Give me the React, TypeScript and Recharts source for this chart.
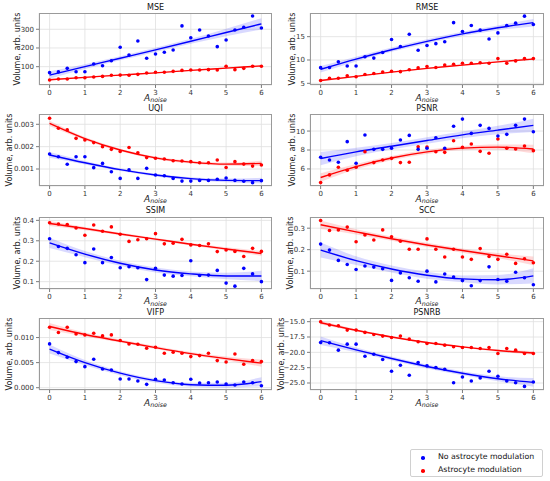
import React from "react";
import { Area, CartesianGrid, ComposedChart, Line, Scatter, XAxis, YAxis } from "recharts";

// Noise amplitudes of the measured points, and of the fitted curve samples.
const noiseLevels = [0, 0.25, 0.5, 0.75, 1, 1.25, 1.5, 1.75, 2, 2.25, 2.5, 2.75, 3, 3.25, 3.5, 3.75, 4, 4.25, 4.5, 4.75, 5, 5.25, 5.5, 5.75, 6];
const fitLevels = [0, 1, 2, 3, 4, 5, 6];
const xTicks = [0, 1, 2, 3, 4, 5, 6];

// MSE
const mseBlue = [68, 72, 91, 73, 73, 114, 105, 132, 204, 162, 237, 145, 168, 177, 189, 318, 255, 296, 264, 207, 243, 296, 311, 371, 307];
const mseRed = [29, 34, 34, 41, 41, 45, 48, 54, 55, 54, 59, 66, 70, 70, 75, 80, 82, 82, 84, 82, 102, 84, 91, 102, 102];
const mseBlueFit = [55, 100, 145, 190, 236, 283, 329];
const mseRedFit = [30, 43, 55, 67, 80, 92, 104];
const mseBlueBand = [20, 13, 11, 11, 13, 20, 30];
const mseRedBand = [4, 3, 2.5, 2.5, 2.5, 3, 5];

// RMSE
const rmseBlue = [8.36, 8.4, 9.6, 8.7, 8.7, 10.7, 10.4, 11.6, 14.4, 12.9, 15.5, 12.1, 13.1, 13.5, 13.9, 18, 16.1, 17.4, 16.4, 14.5, 15.8, 17.4, 17.9, 19.4, 17.6];
const rmseRed = [5.6, 6.1, 6.1, 6.6, 6.4, 6.9, 7.1, 7.4, 7.6, 7.5, 7.9, 8.3, 8.6, 8.4, 8.9, 9.1, 9.3, 9.3, 9.4, 9.3, 10.3, 9.3, 9.8, 10.3, 10.3];
const rmseBlueFit = [8.0, 10.2, 12.2, 14.0, 15.6, 16.9, 18.0];
const rmseRedFit = [5.6, 6.5, 7.4, 8.2, 8.9, 9.6, 10.2];
const rmseBlueBand = [0.7, 0.5, 0.45, 0.45, 0.45, 0.5, 0.8];
const rmseRedBand = [0.2, 0.15, 0.12, 0.12, 0.12, 0.15, 0.2];

// UQI
const uqiBlue = [0.00167, 0.00155, 0.00121, 0.00155, 0.00155, 0.00106, 0.00125, 0.00088, 0.00058, 0.00096, 0.00058, 0.00103, 0.00073, 0.0007, 0.00058, 0.00046, 0.00046, 0.00049, 0.00049, 0.00054, 0.0006, 0.00049, 0.00045, 0.00039, 0.00048];
const uqiRed = [0.00327, 0.00282, 0.00275, 0.00237, 0.0023, 0.00218, 0.002, 0.00188, 0.00178, 0.00196, 0.00173, 0.00151, 0.00148, 0.00145, 0.00137, 0.00136, 0.00133, 0.00128, 0.00128, 0.0014, 0.00107, 0.00133, 0.00122, 0.00113, 0.00118];
const uqiBlueFit = [0.00163, 0.00128, 0.00097, 0.00073, 0.00057, 0.00049, 0.00048];
const uqiRedFit = [0.00304, 0.00236, 0.00185, 0.0015, 0.00131, 0.00122, 0.00125];
const uqiBlueBand = [0.00013, 0.00008, 0.00006, 0.00006, 0.00006, 0.00008, 0.00013];
const uqiRedBand = [0.00012, 0.00007, 0.00006, 0.00006, 0.00006, 0.00007, 0.00012];

// PSNR
const psnrBlue = [7.23, 6.95, 6.7, 8.88, 6.6, 9.58, 8.07, 8.07, 8.18, 9.05, 9.54, 8.07, 8.18, 9.3, 8.18, 10.5, 11.26, 9.75, 10.6, 10.28, 9.47, 9.65, 10.6, 11.26, 9.93];
const psnrRed = [4.56, 5.37, 6.18, 5.86, 6.18, 7.82, 6.67, 6.95, 7.12, 6.67, 6.7, 8.35, 8.32, 7.82, 7.75, 8.98, 8.28, 8.63, 7.86, 7.65, 9.16, 8.18, 8.1, 8.42, 7.93];
const psnrBlueFit = [7.1, 7.8, 8.4, 9.0, 9.6, 10.1, 10.6];
const psnrRedFit = [5.1, 6.25, 7.15, 7.8, 8.2, 8.3, 8.1];
const psnrBlueBand = [0.7, 0.45, 0.35, 0.35, 0.35, 0.45, 0.7];
const psnrRedBand = [0.45, 0.28, 0.22, 0.22, 0.22, 0.28, 0.45];

// SSIM
const ssimBlue = [0.31, 0.272, 0.263, 0.232, 0.193, 0.26, 0.193, 0.218, 0.168, 0.173, 0.168, 0.11, 0.165, 0.132, 0.127, 0.13, 0.202, 0.13, 0.132, 0.155, 0.093, 0.078, 0.165, 0.138, 0.1];
const ssimRed = [0.388, 0.382, 0.38, 0.363, 0.327, 0.377, 0.347, 0.368, 0.332, 0.297, 0.305, 0.31, 0.335, 0.285, 0.288, 0.307, 0.28, 0.277, 0.285, 0.247, 0.255, 0.248, 0.223, 0.263, 0.248];
const ssimBlueFit = [0.29, 0.235, 0.19, 0.157, 0.138, 0.128, 0.128];
const ssimRedFit = [0.385, 0.36, 0.333, 0.308, 0.283, 0.26, 0.238];
const ssimBlueBand = [0.025, 0.015, 0.012, 0.012, 0.012, 0.016, 0.025];
const ssimRedBand = [0.012, 0.008, 0.006, 0.006, 0.006, 0.008, 0.012];

// SCC
const sccBlue = [0.226, 0.198, 0.15, 0.131, 0.108, 0.124, 0.119, 0.111, 0.057, 0.092, 0.069, 0.053, 0.1, 0.05, 0.087, 0.073, 0.056, 0.032, 0.056, 0.12, 0.061, 0.053, 0.095, 0.069, 0.037];
const sccRed = [0.336, 0.289, 0.292, 0.305, 0.237, 0.268, 0.245, 0.292, 0.26, 0.239, 0.202, 0.202, 0.25, 0.202, 0.166, 0.202, 0.166, 0.155, 0.205, 0.168, 0.155, 0.179, 0.136, 0.158, 0.139];
const sccBlueFit = [0.198, 0.149, 0.11, 0.081, 0.064, 0.06, 0.078];
const sccRedFit = [0.316, 0.283, 0.251, 0.222, 0.196, 0.172, 0.148];
const sccBlueBand = [0.035, 0.02, 0.016, 0.016, 0.016, 0.022, 0.035];
const sccRedBand = [0.02, 0.012, 0.01, 0.01, 0.01, 0.012, 0.02];

// VIFP
const vifpBlue = [0.00873, 0.007, 0.00607, 0.0052, 0.0042, 0.00567, 0.00373, 0.00353, 0.00173, 0.00173, 0.00133, 0.00067, 0.00167, 0.00153, 0.001, 0.00073, 0.00167, 0.00093, 0.001, 0.00113, 0.00073, 0.00053, 0.00113, 0.001, 0.0004];
const vifpRed = [0.01207, 0.011, 0.01207, 0.01073, 0.01053, 0.01087, 0.01033, 0.01053, 0.0094, 0.00873, 0.00867, 0.00787, 0.00807, 0.00687, 0.00707, 0.00687, 0.0062, 0.0064, 0.00687, 0.0054, 0.00513, 0.00673, 0.00467, 0.0054, 0.0052];
const vifpBlueFit = [0.0077, 0.005, 0.0029, 0.0014, 0.0006, 0.0005, 0.0012];
const vifpRedFit = [0.0122, 0.0106, 0.0093, 0.008, 0.0068, 0.0058, 0.0049];
const vifpBlueBand = [0.0009, 0.0005, 0.0004, 0.0004, 0.0004, 0.0005, 0.0009];
const vifpRedBand = [0.0007, 0.0004, 0.0003, 0.0003, 0.0003, 0.0004, 0.0007];

// PSNRB
const psnrbBlue = [-18.39, -18.44, -19.64, -18.66, -18.66, -20.63, -20.3, -21.17, -23.09, -22.1, -23.74, -21.67, -22.21, -22.49, -22.76, -24.95, -24.02, -24.67, -24.18, -23.09, -23.9, -24.67, -24.95, -25.55, -24.84];
const psnrbRed = [-15.0, -15.55, -15.66, -16.37, -16.37, -16.75, -17.08, -17.35, -17.57, -17.35, -17.84, -18.28, -18.55, -18.55, -18.83, -19.1, -19.2, -19.2, -19.37, -19.2, -20.2, -19.37, -19.64, -20.2, -20.2];
const psnrbBlueFit = [-18.1, -19.6, -21.0, -22.3, -23.4, -24.3, -24.9];
const psnrbRedFit = [-15.16, -16.4, -17.5, -18.4, -19.1, -19.7, -20.1];
const psnrbBlueBand = [0.7, 0.4, 0.32, 0.32, 0.32, 0.4, 0.7];
const psnrbRedBand = [0.3, 0.18, 0.14, 0.14, 0.14, 0.18, 0.3];

const BLUE = "#0000ff";
const RED = "#ff0000";
const Y_AXIS_W = 40;
const X_AXIS_H = 16;
const PLOT_H = 72;

type PanelProps = {
  title: string;
  left: number;
  top: number;
  width: number;
  labelX: number;
  yDomain: [number, number];
  yTicks: number[];
  decimals: number;
  blue: number[];
  red: number[];
  blueFit: number[];
  redFit: number[];
  blueBand: number[];
  redBand: number[];
};

const points = (values: number[]) => values.map((y, i) => ({ x: noiseLevels[i], y }));
const fit = (values: number[]) => values.map((y, i) => ({ x: fitLevels[i], y }));
const band = (values: number[], half: number[]) =>
  values.map((y, i) => ({ x: fitLevels[i], band: [y - half[i], y + half[i]] }));

const Dot = (props: any) => <circle cx={props.cx} cy={props.cy} r={1.8} fill={props.fill} />;

const fmt = (decimals: number) => (v: number) => v.toFixed(decimals).replace("-", "\u2212");

function Panel(p: PanelProps) {
  const cx = p.left + p.width / 2;
  return (
    <>
      <div style={{ position: "absolute", left: cx, top: p.top - 9.5, lineHeight: "8px", transform: "translateX(-50%)", fontSize: 8, whiteSpace: "nowrap" }}>
        {p.title}
      </div>
      <div style={{ position: "absolute", left: p.left - Y_AXIS_W, top: p.top }}>
        <ComposedChart width={p.width + Y_AXIS_W} height={PLOT_H + X_AXIS_H} margin={{ top: 0, right: 0, bottom: 0, left: 0 }}>
          <CartesianGrid stroke="#e0e0e0" strokeWidth={0.8} />
          <XAxis
            type="number"
            dataKey="x"
            domain={[-0.3, 6.3]}
            ticks={xTicks}
            interval={0}
            allowDataOverflow
            height={X_AXIS_H}
            axisLine={false}
            tickSize={3}
            tickLine={{ stroke: "#444", strokeWidth: 0.7 }}
            tick={{ fontSize: 7, fill: "#333" }}
          />
          <YAxis
            type="number"
            domain={p.yDomain}
            ticks={p.yTicks}
            interval={0}
            allowDataOverflow
            width={Y_AXIS_W}
            axisLine={false}
            tickSize={3}
            tickLine={{ stroke: "#444", strokeWidth: 0.7 }}
            tick={{ fontSize: 7, fill: "#333" }}
            tickFormatter={fmt(p.decimals)}
          />
          <Area data={band(p.redFit, p.redBand)} dataKey="band" type="monotone" fill={RED} fillOpacity={0.15} stroke="none" isAnimationActive={false} />
          <Area data={band(p.blueFit, p.blueBand)} dataKey="band" type="monotone" fill={BLUE} fillOpacity={0.15} stroke="none" isAnimationActive={false} />
          <Scatter data={points(p.red)} dataKey="y" fill={RED} shape={Dot} isAnimationActive={false} />
          <Scatter data={points(p.blue)} dataKey="y" fill={BLUE} shape={Dot} isAnimationActive={false} />
          <Line data={fit(p.redFit)} dataKey="y" type="monotone" stroke={RED} strokeWidth={1.4} dot={false} isAnimationActive={false} />
          <Line data={fit(p.blueFit)} dataKey="y" type="monotone" stroke={BLUE} strokeWidth={1.4} dot={false} isAnimationActive={false} />
        </ComposedChart>
      </div>
      <div style={{ position: "absolute", left: p.left, top: p.top, width: p.width, height: PLOT_H, border: "1px solid #9a9a9a", boxSizing: "border-box", pointerEvents: "none" }} />
      <div style={{ position: "absolute", left: cx, top: p.top + PLOT_H + 8.5, lineHeight: "8px", transform: "translateX(-50%)", fontSize: 9, fontStyle: "italic", whiteSpace: "nowrap", color: "#222" }}>
        A<span style={{ fontSize: 6.3, lineHeight: "6px", position: "relative", top: 1.5 }}>noise</span>
      </div>
      <div
        style={{
          position: "absolute",
          left: p.labelX,
          top: p.top + PLOT_H / 2,
          lineHeight: "9px",
          transform: "translate(-50%, -50%) rotate(-90deg)",
          fontSize: 8,
          whiteSpace: "nowrap",
          color: "#222",
        }}
      >
        Volume, arb. units
      </div>
    </>
  );
}

const LEFT = { left: 39, width: 233 };
const RIGHT = { left: 310, width: 234 };
const ROWS = [13, 114, 216.5, 318];

export default function App() {
  return (
    <div style={{ position: "absolute", left: 0, top: 0, width: 550, height: 481, background: "#fff", fontFamily: "'DejaVu Sans', sans-serif", color: "#111" }}>
      <Panel title="MSE" {...LEFT} labelX={17} top={ROWS[0]} yDomain={[2, 387]} yTicks={[100, 200, 300]} decimals={0}
        blue={mseBlue} red={mseRed} blueFit={mseBlueFit} redFit={mseRedFit} blueBand={mseBlueBand} redBand={mseRedBand} />
      <Panel title="RMSE" {...RIGHT} labelX={292} top={ROWS[0]} yDomain={[4.64, 20.07]} yTicks={[5, 10, 15]} decimals={0}
        blue={rmseBlue} red={rmseRed} blueFit={rmseBlueFit} redFit={rmseRedFit} blueBand={rmseBlueBand} redBand={rmseRedBand} />
      <Panel title="UQI" {...LEFT} labelX={9} top={ROWS[1]} yDomain={[0.00024, 0.00346]} yTicks={[0.001, 0.002, 0.003]} decimals={3}
        blue={uqiBlue} red={uqiRed} blueFit={uqiBlueFit} redFit={uqiRedFit} blueBand={uqiBlueBand} redBand={uqiRedBand} />
      <Panel title="PSNR" {...RIGHT} labelX={292} top={ROWS[1]} yDomain={[4.2, 11.8]} yTicks={[6, 8, 10]} decimals={0}
        blue={psnrBlue} red={psnrRed} blueFit={psnrBlueFit} redFit={psnrRedFit} blueBand={psnrBlueBand} redBand={psnrRedBand} />
      <Panel title="SSIM" {...LEFT} labelX={17} top={ROWS[2]} yDomain={[0.064, 0.4165]} yTicks={[0.1, 0.2, 0.3, 0.4]} decimals={1}
        blue={ssimBlue} red={ssimRed} blueFit={ssimBlueFit} redFit={ssimRedFit} blueBand={ssimBlueBand} redBand={ssimRedBand} />
      <Panel title="SCC" {...RIGHT} labelX={290} top={ROWS[2]} yDomain={[0.017, 0.352]} yTicks={[0.1, 0.2, 0.3]} decimals={1}
        blue={sccBlue} red={sccRed} blueFit={sccBlueFit} redFit={sccRedFit} blueBand={sccBlueBand} redBand={sccRedBand} />
      <Panel title="VIFP" {...LEFT} labelX={9} top={ROWS[3]} yDomain={[-0.00046, 0.0139]} yTicks={[0, 0.005, 0.01]} decimals={3}
        blue={vifpBlue} red={vifpRed} blueFit={vifpBlueFit} redFit={vifpRedFit} blueBand={vifpBlueBand} redBand={vifpRedBand} />
      <Panel title="PSNRB" {...RIGHT} labelX={281} top={ROWS[3]} yDomain={[-26.14, -14.4]} yTicks={[-25, -22.5, -20, -17.5, -15]} decimals={1}
        blue={psnrbBlue} red={psnrbRed} blueFit={psnrbBlueFit} redFit={psnrbRedFit} blueBand={psnrbBlueBand} redBand={psnrbRedBand} />

      {/* legend */}
      <div style={{ position: "absolute", left: 410, top: 449, width: 133, height: 28, border: "1px solid #d0d0d0", borderRadius: 2, boxSizing: "border-box", fontSize: 7.8 }}>
        <div style={{ position: "absolute", left: 10, top: 6, width: 3.6, height: 3.6, borderRadius: "50%", background: BLUE }} />
        <div style={{ position: "absolute", left: 27, top: 2, whiteSpace: "nowrap" }}>No astrocyte modulation</div>
        <div style={{ position: "absolute", left: 10, top: 19, width: 3.6, height: 3.6, borderRadius: "50%", background: RED }} />
        <div style={{ position: "absolute", left: 27, top: 15, whiteSpace: "nowrap" }}>Astrocyte modulation</div>
      </div>
    </div>
  );
}
